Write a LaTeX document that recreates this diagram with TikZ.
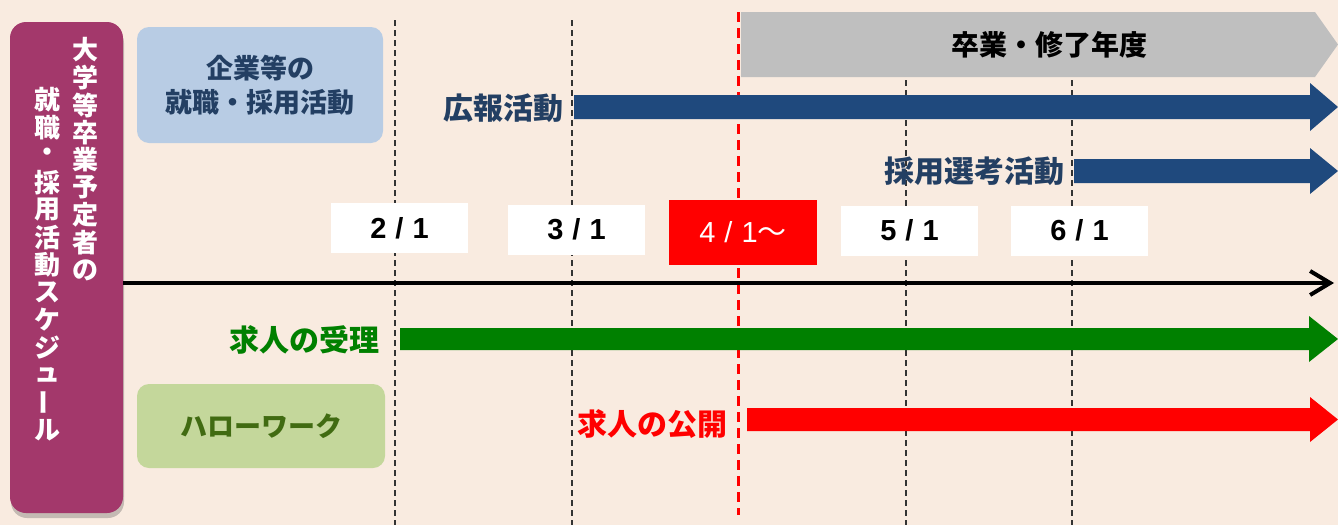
\documentclass[tikz,border=0pt]{standalone}
\usepackage{fontspec}
\usepackage{graphicx}
\setmainfont{Noto Sans CJK JP}
\newfontfamily\datefont{Liberation Sans}
\usetikzlibrary{arrows.meta,shadows}
\definecolor{bg}{HTML}{F9EBE0}
\definecolor{purp}{HTML}{A3386B}
\definecolor{lblue}{HTML}{B8CCE4}
\definecolor{dblue}{HTML}{1F497D}
\definecolor{tblue}{HTML}{233F63}
\definecolor{lgreen}{HTML}{C4D79B}
\definecolor{tgreen}{HTML}{416B12}
\definecolor{agreen}{HTML}{008000}
\definecolor{grey}{HTML}{BFBFBF}
\definecolor{ared}{HTML}{FF0000}
\newcommand{\dsl}{\hspace{9pt}/\hspace{9pt}}
\tikzset{
  vt/.style={text=white,inner sep=0pt,font=\fontsize{26}{26}\selectfont\bfseries},
  catbox/.style={rounded corners=12pt,inner sep=0pt,align=center},
  datebox/.style={fill=white,inner sep=0pt,minimum width=137pt,minimum height=50pt,font=\datefont\fontsize{29}{29}\selectfont\bfseries},
  lbl/.style={inner sep=0pt,anchor=east,font=\fontsize{30}{30}\selectfont\bfseries},
  guide/.style={draw=black!80,line width=1.2pt,dash pattern=on 6pt off 4pt},
}
\begin{document}
\begin{tikzpicture}[x=1pt,y=-1pt]
\useasboundingbox (0,0) rectangle (1338,525);
\fill[bg] (0,0) rectangle (1338,525);
% guide lines
\draw[guide] (395,20) -- (395,525);
\draw[guide] (572,20) -- (572,525);
\draw[guide] (906,20) -- (906,525);
\draw[guide] (1072,20) -- (1072,525);
\draw[draw=ared,line width=3pt,dash pattern=on 10pt off 6pt] (738,12) -- (738,515);
% left schedule box
\node[fill=purp,rounded corners=16pt,minimum width=113pt,minimum height=491pt,inner sep=0pt,
  drop shadow={shadow xshift=1pt,shadow yshift=-5pt,opacity=0.3,fill=black!70}] (sched) at (66.5,267.5) {};
\foreach \ch [count=\i] in {大,学,等,卒,業,予,定,者,の}
  \node[vt] (r\i) at (85,{50+27.5*(\i-1)}) {\ch};
\foreach \ch [count=\i] in {就,職,・,採,用,活,動,ス,ケ,ジ,ュ,\rotatebox{90}{ー},ル}
  \node[vt] (l\i) at (47,{100+27.5*(\i-1)}) {\ch};
% category boxes
\node[catbox,fill=lblue,text=tblue,minimum width=246pt,minimum height=116pt,
  font=\fontsize{27}{34}\selectfont\bfseries] (corp) at (260,85) {企業等の\\就職・採用活動};
\node[catbox,fill=lgreen,text=tgreen,minimum width=248pt,minimum height=84pt,
  font=\fontsize{27}{27}\selectfont\bfseries] (hw) at (261,426) {ハローワーク};
% grey year arrow
\fill[grey] (741,12) -- (1315,12) -- (1338,44.5) -- (1315,77) -- (741,77) -- cycle;
\node[inner sep=0pt,font=\fontsize{28}{28}\selectfont\bfseries] (year) at (1049,45) {卒業・修了年度};
% blue arrows
\fill[dblue] (574,95) -- (1310,95) -- (1310,83) -- (1338,107) -- (1310,131) -- (1310,119) -- (574,119) -- cycle;
\fill[dblue] (1074,159) -- (1310,159) -- (1310,148) -- (1338,171) -- (1310,194) -- (1310,183) -- (1074,183) -- cycle;
\node[lbl,text=tblue] (pr) at (564,108) {広報活動};
\node[lbl,text=tblue] (sel) at (1065,171) {採用選考活動};
% date boxes
\node[datebox] (d2) at (399.5,228) {2\dsl 1};
\node[datebox] (d3) at (576.5,229.5) {3\dsl 1};
\node[datebox,fill=ared,text=white,minimum width=148pt,minimum height=65pt,font=\datefont\fontsize{29}{29}\selectfont] (d4) at (743,232.5) {4\dsl 1{\normalfont\fontsize{29}{29}\selectfont ～}};
\node[datebox] (d5) at (909.5,230.5) {5\dsl 1};
\node[datebox] (d6) at (1079.5,230.5) {6\dsl 1};
% timeline
\coordinate (tlend) at (1334,283);
\draw[line width=4pt,-{Straight Barb[length=20pt,width=24pt,line width=4pt]}] (sched.east |- tlend) -- (tlend);
% green and red arrows
\fill[agreen] (400,328) -- (1309,328) -- (1309,316) -- (1338,339) -- (1309,362) -- (1309,350) -- (400,350) -- cycle;
\node[lbl,text=agreen] (recv) at (380,340) {求人の受理};
\fill[ared] (747,408) -- (1310,408) -- (1310,397) -- (1338,419.5) -- (1310,442) -- (1310,431) -- (747,431) -- cycle;
\node[lbl,text=ared] (pub) at (728,424.5) {求人の公開};
\end{tikzpicture}
\end{document}
